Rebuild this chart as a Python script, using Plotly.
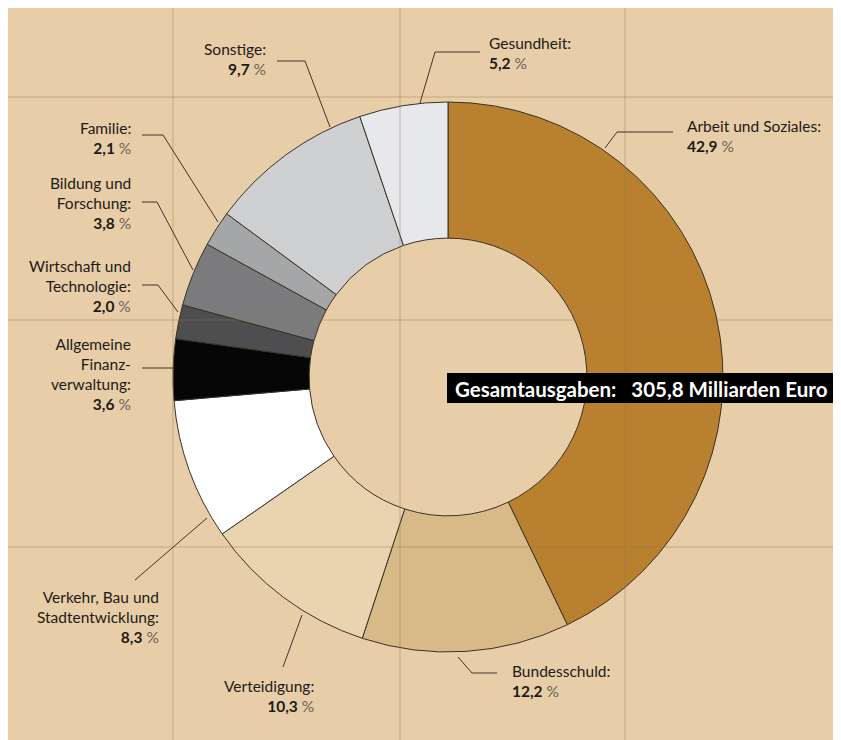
import plotly.graph_objects as go

# ---- data ----
categories = [
    "Arbeit und Soziales", "Bundesschuld", "Verteidigung",
    "Verkehr, Bau und Stadtentwicklung", "Allgemeine Finanzverwaltung",
    "Wirtschaft und Technologie", "Bildung und Forschung", "Familie",
    "Sonstige", "Gesundheit",
]
shares = [42.9, 12.2, 10.3, 8.3, 3.6, 2.0, 3.8, 2.1, 9.7, 5.2]
share_labels = ["42,9", "12,2", "10,3", "8,3", "3,6", "2,0", "3,8", "2,1", "9,7", "5,2"]
label_lines = [
    ["Arbeit und Soziales:"],
    ["Bundesschuld:"],
    ["Verteidigung:"],
    ["Verkehr, Bau und", "Stadtentwicklung:"],
    ["Allgemeine", "Finanz-", "verwaltung:"],
    ["Wirtschaft und", "Technologie:"],
    ["Bildung und", "Forschung:"],
    ["Familie:"],
    ["Sonstige:"],
    ["Gesundheit:"],
]
total_text = "Gesamtausgaben:&nbsp;&nbsp; 305,8 Milliarden Euro"

# ---- styles ----
colors = ["#B9812F", "#D8BA88", "#EAD4AF", "#FFFFFF", "#060606",
          "#4E4E50", "#7B7B7D", "#A5A6A8", "#CFD0D2", "#E6E8EC"]
BG = "#E7CEA8"
# page offset (browser body margin) and visible window
OFF = 8
WIN_W, WIN_H = 841, 740
W, H = WIN_W - OFF, WIN_H - OFF
CX, CY, R = 448, 377, 275   # donut centre/radius in window pixels


def fx(x):
    return (x - OFF) / W


def fy(y):
    return 1 - (y - OFF) / H


# label layout: (x, y_top, anchor) in window pixels, and leader polylines
label_pos = [
    (685, 115, "left"),
    (510, 660, "left"),
    (316, 675, "right"),
    (161, 586, "right"),
    (133, 333, "right"),
    (133, 255, "right"),
    (133, 172, "right"),
    (133, 117, "right"),
    (268, 38, "right"),
    (487, 32, "left"),
]
leaders = [
    [(673, 132), (617, 132), (605, 148)],
    [(497, 673), (472, 673), (458, 657)],
    [(283, 667), (302, 615)],
    [(135, 580), (207, 518)],
    [(142, 368), (173, 368)],
    [(142, 285), (158, 285), (178, 312)],
    [(142, 202), (157, 202), (193, 270)],
    [(142, 135), (163, 135), (218, 222)],
    [(277, 61), (305, 61), (330, 127)],
    [(480, 52), (435, 52), (420, 103)],
]

fig = go.Figure()
fig.add_trace(go.Pie(
    labels=categories,
    values=shares,
    sort=False,
    direction="clockwise",
    rotation=0,
    hole=0.505,
    textinfo="none",
    hoverinfo="label+percent",
    marker=dict(colors=colors, line=dict(color="#3A3226", width=1)),
    domain=dict(x=[fx(CX - R), fx(CX + R)],
                y=[fy(CY + R), fy(CY - R)]),
    showlegend=False,
))

shapes = []
# fold creases
for gx in [173, 400, 625]:
    shapes.append(dict(type="line", xref="x", yref="y", x0=gx, x1=gx, y0=OFF, y1=WIN_H,
                       line=dict(color="rgba(150,118,75,0.30)", width=1.5), layer="above"))
for gy in [97, 320, 547]:
    shapes.append(dict(type="line", xref="x", yref="y", x0=OFF, x1=WIN_W, y0=gy, y1=gy,
                       line=dict(color="rgba(150,118,75,0.30)", width=1.5), layer="above"))
# leader lines
for pts in leaders:
    path = "M " + " L ".join(f"{x},{y}" for x, y in pts)
    shapes.append(dict(type="path", xref="x", yref="y", path=path,
                       line=dict(color="#3C342A", width=1), layer="above"))
# total box
shapes.append(dict(type="rect", xref="x", yref="y", x0=447, x1=836, y0=373, y1=403,
                   fillcolor="#000000", line=dict(width=0), layer="above"))

annotations = []
for lines, val, (x, y, anc) in zip(label_lines, share_labels, label_pos):
    txt = "<br>".join(lines) + f"<br><b>{val}</b><span style='color:#6a6259'> %</span>"
    annotations.append(dict(
        x=x, y=y, xref="x", yref="y", xanchor=anc, yanchor="top", align=anc,
        text=txt, showarrow=False,
        font=dict(family="Lato, Open Sans, sans-serif", size=15.5, color="#1E1A16"),
    ))
annotations.append(dict(
    x=641.5, y=388.5, xref="x", yref="y", xanchor="center", yanchor="middle",
    text=total_text, showarrow=False,
    font=dict(family="Lato, Open Sans, sans-serif", size=20.5, color="#FFFFFF", weight="bold"),
))

fig.update_layout(
    width=W, height=H,
    margin=dict(l=0, r=0, t=0, b=0),
    paper_bgcolor=BG,
    plot_bgcolor="rgba(0,0,0,0)",
    xaxis=dict(range=[OFF, WIN_W], visible=False, fixedrange=True),
    yaxis=dict(range=[WIN_H, OFF], visible=False, fixedrange=True),
    shapes=shapes,
    annotations=annotations,
)

fig.write_html("out.html")
